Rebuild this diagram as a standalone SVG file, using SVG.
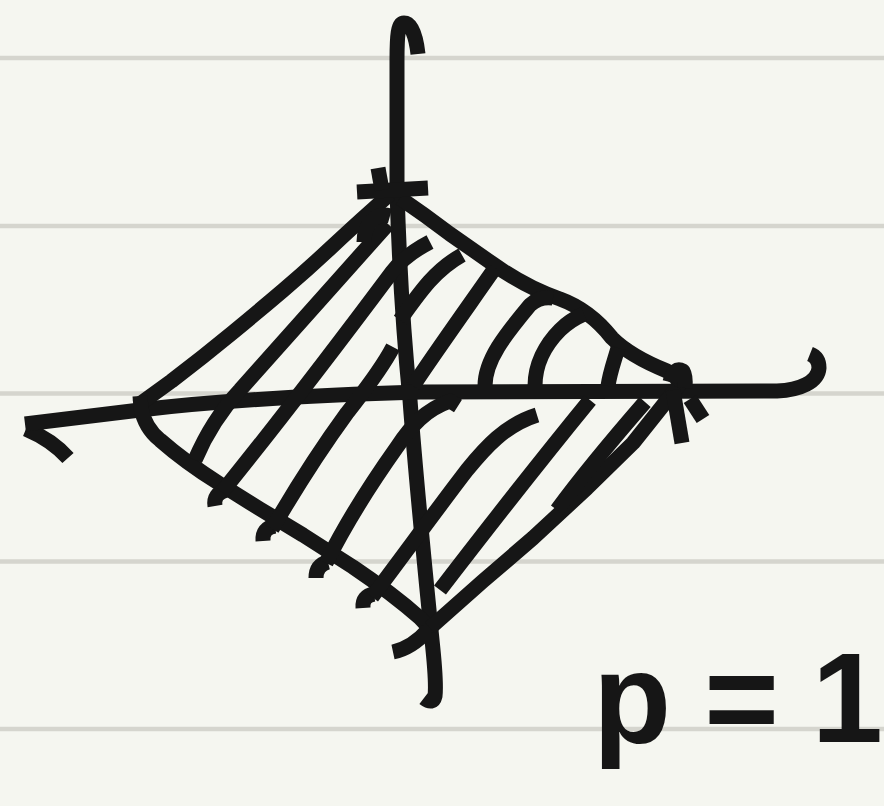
<svg xmlns="http://www.w3.org/2000/svg" width="884" height="806" viewBox="0 0 884 806">
<style>
.rule{stroke:#d5d5ce;stroke-width:4.5;fill:none}
.ink{stroke:#161616;stroke-width:15;fill:none;stroke-linecap:butt;stroke-linejoin:round}
.lbl{font-family:"Liberation Sans","DejaVu Sans",Arial,sans-serif;font-weight:bold;font-size:128px;fill:#161616}
</style>
<rect x="0" y="0" width="884" height="806" fill="#f5f6f0"/>
<g id="paper-lines">
<line class="rule" x1="0" y1="58" x2="884" y2="58"/>
<line class="rule" x1="0" y1="226" x2="884" y2="226"/>
<line class="rule" x1="0" y1="393.5" x2="884" y2="393.5"/>
<line class="rule" x1="0" y1="561.5" x2="884" y2="561.5"/>
<line class="rule" x1="0" y1="729" x2="884" y2="729"/>
</g>
<g id="axes">
<path class="ink" d="M418,54 C416,36 411,23 404,23 C398,23 397,35 397,60 L397,190 C399,260 403,330 410,400 C416,480 424,560 432,640 C435,668 436,688 435,696 Q433,705 424,698"/>
<path class="ink" d="M68,458 Q52,440 26,429"/>
<path class="ink" d="M25,424 L140,410 Q250,397 420,392 L777,391 C800,390 818,382 819,368 C819,360 815,356 810,354"/>
</g>
<g id="diamond">
<path class="ink" d="M390,194 L371.5,210.5 Q353,227 330,248.5 Q307,270 283.5,290 Q260,310 231.5,333.5 Q203,357 171.5,381 L137,406"/>
<path class="ink" d="M140,396 L141,408 Q145,428 160,440 Q185,462 220,484 L260,509 L303,535 L353,567 Q393,594 420,618 L433,632"/>
<path class="ink" d="M430,628 L483,581 L533,538 L587,488 L633,443 L680,384"/>
<path class="ink" d="M400,198 Q425,215 450,234 L493,264 Q527,288 560,299 Q590,310 612,338 Q630,356 667,371 L682,382"/>
<path class="ink" d="M357,192 L428,188"/>
<path class="ink" d="M378,168 L382,190"/>
<path class="ink" d="M670,382 Q674,366 683,371 Q686,376 685,388"/>
<path class="ink" d="M673,390 L682,443"/>
<path class="ink" d="M690,399 L703,419"/>
<path class="ink" d="M393,652 Q412,648 428,630"/>
</g>
<g id="hatching">
<path class="ink" d="M195,460 Q212,420 240,390 L388,224"/>
<path class="ink" d="M364,242 C364,224 376,212 390,216"/>
<path class="ink" d="M215,506 Q213,494 226,490"/>
<path class="ink" d="M222,492 C260,445 330,355 392,272 Q405,255 430,242"/>
<path class="ink" d="M263,541 Q262,528 275,526"/>
<path class="ink" d="M272,529 C290,498 320,450 347,413 C360,396 380,372 393,347"/>
<path class="ink" d="M400,320 C420,292 435,270 462,255"/>
<path class="ink" d="M316,578 Q316,565 328,562"/>
<path class="ink" d="M326,563 C345,525 370,485 397,447 C412,425 425,410 450,401 L458,406"/>
<path class="ink" d="M363,608 Q362,596 374,594"/>
<path class="ink" d="M372,597 C400,560 440,505 467,470 C485,448 505,425 537,415"/>
<path class="ink" d="M440,590 C490,525 545,455 590,400"/>
<path class="ink" d="M557,510 C582,476 612,440 645,402"/>
<path class="ink" d="M413,386 C430,360 455,325 495,268"/>
<path class="ink" d="M485,386 C485,360 505,335 530,305 Q540,296 553,298"/>
<path class="ink" d="M535,386 C535,365 545,345 560,330 Q570,320 584,314"/>
<path class="ink" d="M608,386 C610,372 614,362 618,348"/>
</g>
<text class="lbl" x="593" y="742" textLength="290" lengthAdjust="spacing">p = 1</text>
</svg>
